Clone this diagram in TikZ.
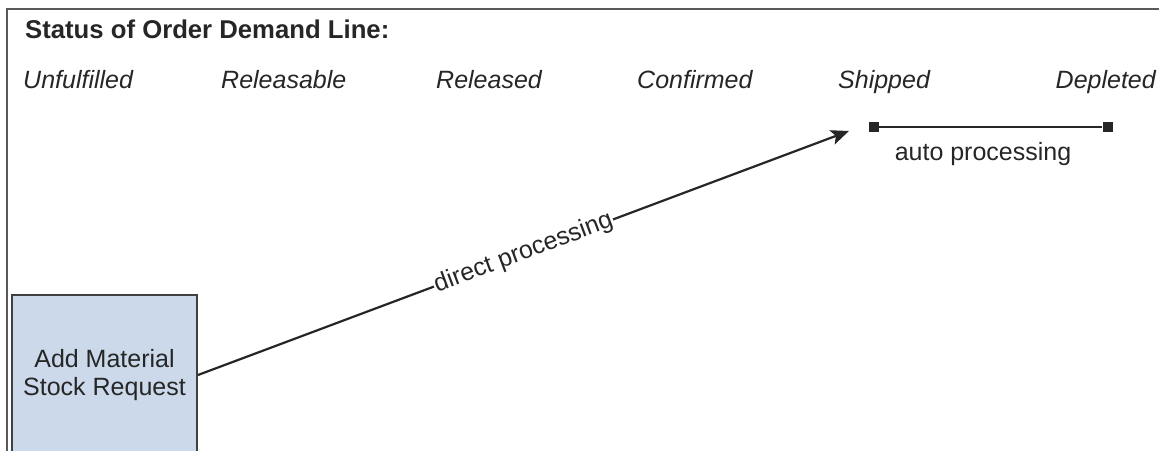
\documentclass[tikz,border=0pt]{standalone}
\usepackage{fontspec}
\setmainfont{Liberation Sans}
\usetikzlibrary{arrows.meta}

\definecolor{boxfill}{HTML}{CCD9EA}
\definecolor{boxline}{HTML}{404040}
\definecolor{frameline}{HTML}{5A5A5A}
\definecolor{ink}{HTML}{262626}

\begin{document}
\begin{tikzpicture}[x=1pt,y=-1pt,
  status/.style={anchor=base west,inner sep=0pt,text=ink,font=\fontsize{25}{28}\selectfont\itshape},
  reqbox/.style={draw=boxline,line width=2pt,fill=boxfill,minimum width=185pt,minimum height=160pt,
    align=center,text=ink,font=\fontsize{25}{28}\selectfont},
  endsq/.style={fill=ink,minimum size=10pt,inner sep=0pt}
]
\useasboundingbox (0,0) rectangle (1159,450);

% Frame around the picture (cut at right and bottom)
\draw[frameline,line width=1.5pt] (7,452) -- (7,9) -- (1160,9);

% Title
\node[anchor=base west,inner sep=0pt,text=ink,font=\fontsize{25.7}{28}\selectfont\bfseries] (title) at (25,38) {Status of Order Demand Line:};

% Status names
\node[status] (unfulfilled) at (23,88) {Unfulfilled};
\node[status] (releasable) at (221,88) {Releasable};
\node[status] (released) at (436,88) {Released};
\node[status] (confirmed) at (637,88) {Confirmed};
\node[status] (shipped) at (838,88) {Shipped};
\node[status,anchor=base east] (depleted) at (1156,88) {Depleted};

% Request box
\node[reqbox] (req) at (104.5,375) {Add Material\\Stock Request};

% Direct processing arrow
\coordinate (shipTip) at (849,131);
\draw[ink,line width=2.2pt,-{Stealth[length=18pt,width=15pt,inset=4pt]}] (req.east) -- node[sloped,fill=white,inner sep=1pt,font=\fontsize{25}{28}\selectfont] (directLbl) {direct processing} (shipTip);

% Auto processing line
\node[endsq] (autoA) at (873.5,126.5) {};
\node[endsq] (autoB) at (1107.5,126.5) {};
\draw[ink,line width=2pt] (autoA) -- (autoB);
\node[anchor=base,inner sep=0pt,text=ink,font=\fontsize{25}{28}\selectfont] (autoLbl) at (983,160) {auto processing};

\end{tikzpicture}
\end{document}
